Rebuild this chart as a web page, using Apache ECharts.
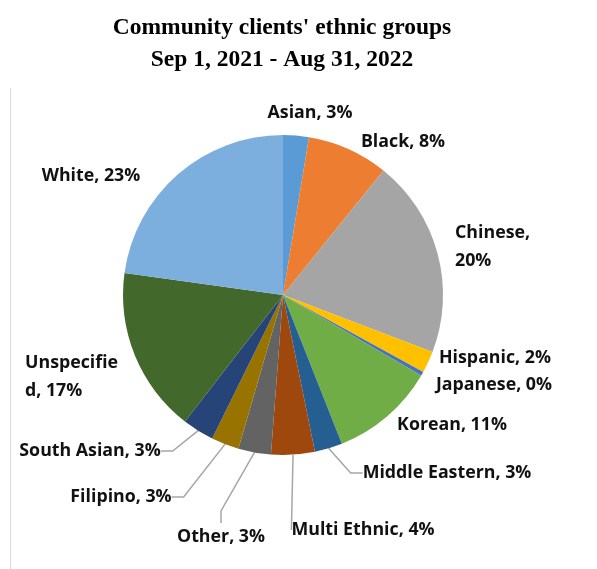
<!DOCTYPE html>
<html>
<head>
<meta charset="utf-8">
<script src="https://cdn.jsdelivr.net/npm/echarts@6/dist/echarts.min.js"></script>
<style>
  html, body { margin: 0; padding: 0; background: #fff; }
  #chart { width: 597px; height: 569px; }
</style>
</head>
<body>
<div id="chart"></div>
<script>
// Share of community clients by ethnic group (percent)
const categories = ['Asian', 'Black', 'Chinese', 'Hispanic', 'Japanese', 'Korean',
  'Middle Eastern', 'Multi Ethnic', 'Other', 'Filipino', 'South Asian', 'Unspecified', 'White'];
const shares = [2.6, 8.2, 20.0, 2.2, 0.4, 10.6, 2.8, 4.4, 3.3, 2.8, 3.2, 16.7, 22.8];
const sliceColors = ['#5B9BD5', '#ED7D31', '#A5A5A5', '#FFC000', '#4472C4', '#70AD47',
  '#255E91', '#9E480E', '#636363', '#997300', '#264478', '#43682B', '#7CAFDD'];
const titleLines = ["Community clients' ethnic groups", 'Sep 1, 2021 - Aug 31, 2022'];

// Labels that wrap onto a second line, and where the break goes
const wrapAt = { 'Chinese': 8, 'Unspecified': 10 };
// Slices whose labels sit away from the pie and get a leader line
const withLeader = ['Middle Eastern', 'Multi Ethnic', 'Other', 'Filipino', 'South Asian'];

// Label placement: [x, y, align]
const labelSpots = {
  'Asian': [310, 113, 'center'],
  'Black': [403, 142, 'center'],
  'Chinese': [455, 247, 'left'],
  'Hispanic': [495, 358, 'center'],
  'Japanese': [494, 385, 'center'],
  'Korean': [452, 425, 'center'],
  'Middle Eastern': [447, 473, 'center'],
  'Multi Ethnic': [363, 530, 'center'],
  'Other': [221, 537, 'center'],
  'Filipino': [121, 497, 'center'],
  'South Asian': [90, 451, 'center'],
  'Unspecified': [25, 377, 'left'],
  'White': [91, 176, 'center']
};

const chart = echarts.init(document.getElementById('chart'), null, { renderer: 'canvas' });

const pieData = categories.map((name, i) => ({
  name: name,
  value: shares[i],
  itemStyle: { color: sliceColors[i] },
  labelLine: { show: withLeader.indexOf(name) >= 0 }
}));

chart.setOption({
  animation: false,
  backgroundColor: '#ffffff',
  title: {
    text: titleLines.join('\n'),
    left: 277,
    top: 7,
    textAlign: 'center',
    textStyle: {
      fontFamily: '"Liberation Serif", "DejaVu Serif", serif',
      fontWeight: 'bold',
      fontSize: 23.5,
      lineHeight: 32,
      color: '#000'
    }
  },
  graphic: [{
    type: 'line',
    shape: { x1: 10.5, y1: 88, x2: 10.5, y2: 569 },
    style: { stroke: '#d9d9d9', lineWidth: 1 }
  }],
  series: [{
    type: 'pie',
    center: [283, 295],
    radius: 160,
    startAngle: 90,
    clockwise: true,
    avoidLabelOverlap: false,
    data: pieData,
    label: {
      show: true,
      position: 'outside',
      fontFamily: '"Open Sans", "Noto Sans", sans-serif',
      fontWeight: 'bold',
      fontSize: 17.8,
      lineHeight: 28,
      color: '#111',
      formatter: function (p) {
        let text = p.name + ', ' + Math.round(p.percent) + '%';
        const cut = wrapAt[p.name];
        if (cut !== undefined) {
          text = text.slice(0, cut).trimEnd() + '\n' + text.slice(cut).trimStart();
        }
        return text;
      }
    },
    labelLine: {
      show: false,
      length: 20,
      length2: 12,
      lineStyle: { color: '#A6A6A6', width: 1.5 }
    },
    labelLayout: function (params) {
      const name = categories[params.dataIndex];
      const spot = labelSpots[name];
      return {
        x: spot[0],
        y: spot[1],
        align: spot[2],
        verticalAlign: 'middle',
        hideOverlap: false
      };
    }
  }]
});
</script>
</body>
</html>
